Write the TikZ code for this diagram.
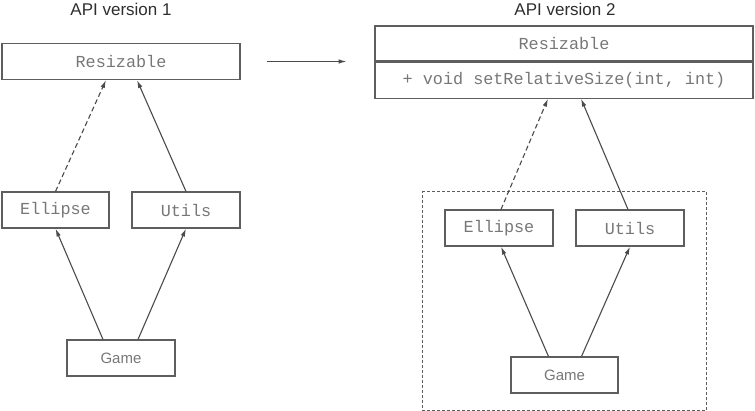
\documentclass[tikz,border=0pt]{standalone}
\usepackage{fontspec}
\setmainfont{Liberation Sans}
\setmonofont{Liberation Mono}
\usetikzlibrary{arrows.meta,fit}
\definecolor{boxgray}{HTML}{5E5E5E}
\definecolor{txtgray}{HTML}{777777}
\definecolor{ttlgray}{HTML}{2E2E2E}

\begin{document}
\begin{tikzpicture}[x=1pt, y=-1pt, line width=1.1pt,
	cls/.style={draw=boxgray, rectangle, inner sep=0pt, minimum height=36pt,
		font=\fontsize{16.8}{18}\selectfont\ttfamily, text=txtgray},
	app/.style={draw=boxgray, rectangle, inner sep=0pt, minimum height=36pt,
		font=\fontsize{15}{17}\selectfont, text=txtgray},
	ttl/.style={font=\fontsize{17}{19}\selectfont, text=ttlgray},
	dep/.style={draw=boxgray!80!black, -{Latex[length=8pt,width=4.5pt]}},
	dep dashed/.style={dep, dash pattern=on 5pt off 3pt}]
	\useasboundingbox (0,0) rectangle (755,411);

	% API version 1
		\node[ttl] (title1) at (121,9) {API version 1};
		\node[cls, minimum width=238pt] (res1) at (121,61.5) {Resizable};
		\node[cls, minimum width=107pt] (ell1) at (55.5,210) {Ellipse};
		\node[cls, minimum width=108pt] (utl1) at (186,210) {Utils};
		\node[app, minimum width=108pt] (game1) at (121,358) {Game};
		\draw[dep dashed] (ell1.north) -- ([xshift=-15pt]res1.south);
		\draw[dep] (utl1.north) -- ([xshift=16pt]res1.south);
		\draw[dep] ([xshift=-18pt]game1.north) -- (ell1.south);
		\draw[dep] ([xshift=17pt]game1.north) -- (utl1.south);

	% the change
		\draw[dep] ([xshift=26pt]res1.east) -- ([xshift=106pt]res1.east);

	% API version 2
		\node[ttl] (title2) at (565,9) {API version 2};
		\node[cls, minimum width=378pt, minimum height=35pt] (res2) at (564,43.5) {Resizable};
		\node[cls, minimum width=378pt, anchor=north] (meth2) at (res2.south) {+ void setRelativeSize(int, int)};
		\node[cls, minimum width=108pt] (ell2) at (499,228) {Ellipse};
		\node[cls, minimum width=108pt] (utl2) at (630,228) {Utils};
		\node[app, minimum width=107pt] (game2) at (564.5,375) {Game};
		\node[draw=boxgray, dash pattern=on 3pt off 2pt, inner xsep=22pt, inner ysep=17.5pt, fit=(ell2)(utl2)(game2)] (grp2) {};
		\draw[dep dashed] ([xshift=2pt]ell2.north) -- ([xshift=-16pt]meth2.south);
		\draw[dep] ([xshift=-2pt]utl2.north) -- ([xshift=17pt]meth2.south);
		\draw[dep] ([xshift=-16pt]game2.north) -- ([xshift=2pt]ell2.south);
		\draw[dep] ([xshift=17pt]game2.north) -- (utl2.south);
\end{tikzpicture}
\end{document}
